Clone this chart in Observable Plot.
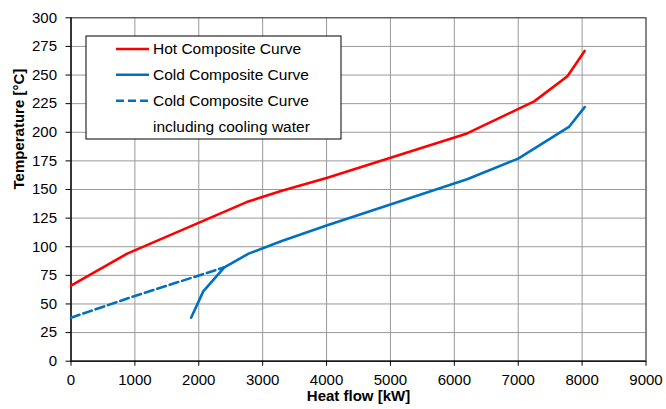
<!DOCTYPE html>
<html>
<head>
<meta charset="utf-8">
<script src="https://cdn.jsdelivr.net/npm/d3@7"></script>
<script src="https://cdn.jsdelivr.net/npm/@observablehq/plot@0.6"></script>
<style>
  html, body { margin: 0; padding: 0; background: #fff; }
  svg { display: block; }
</style>
</head>
<body>
<div id="chart"></div>
<script>
// Hot composite curve
const hotX = [0, 880, 2750, 3300, 4000, 6200, 7250, 7770, 8040];
const hotT = [66, 94, 139, 149, 160, 199, 227, 249, 271];
// Cold composite curve
const coldX = [1880, 2070, 2400, 2780, 3300, 4000, 6200, 7000, 7800, 8040];
const coldT = [38, 61, 82, 94, 105, 118.5, 159, 177, 205, 222];
// Cold composite curve including cooling water (dashed part)
const cwX = [0, 1000, 2400];
const cwT = [38, 57, 82];

const xTicks = [0, 1000, 2000, 3000, 4000, 5000, 6000, 7000, 8000, 9000];
const yTicks = [0, 25, 50, 75, 100, 125, 150, 175, 200, 225, 250, 275, 300];

const legendItems = [
  {label: "Hot Composite Curve", color: "#ff0000", dash: null},
  {label: "Cold Composite Curve", color: "#0070c0", dash: null},
  {label: "Cold Composite Curve", color: "#0070c0", dash: "8,4"},
  {label: "including cooling water", color: null, dash: null}
];

const toRows = (xs, ys) => xs.map((x, i) => ({x, y: ys[i]}));
const hot = toRows(hotX, hotT);
const cold = toRows(coldX, coldT);
const cw = toRows(cwX, cwT);

const FONT = "'Liberation Sans', Arial, sans-serif";

const plot = Plot.plot({
  width: 666,
  height: 409,
  marginLeft: 70.5,
  marginRight: 20.5,
  marginTop: 17.3,
  marginBottom: 48.3,
  style: {fontFamily: FONT, fontSize: "15px", color: "#000", background: "#fff"},
  x: {domain: [0, 9000], label: null},
  y: {domain: [0, 300], label: null},
  marks: [
    Plot.gridX(xTicks, {stroke: "#9a9a9a", strokeOpacity: 1, strokeWidth: 1}),
    Plot.gridY(yTicks, {stroke: "#9a9a9a", strokeOpacity: 1, strokeWidth: 1}),
    Plot.frame({stroke: "#404040", strokeWidth: 1}),
    Plot.ruleX([0], {stroke: "#000", strokeWidth: 1.2}),
    Plot.ruleY([0], {stroke: "#000", strokeWidth: 1.2}),
    Plot.axisX(xTicks, {tickSize: 5, tickPadding: 8, fontSize: 15, label: null, stroke: "#000", tickFormat: d => String(d)}),
    Plot.axisY(yTicks, {tickSize: 5, tickPadding: 9, fontSize: 15, label: null, stroke: "#000", tickFormat: d => String(d)}),
    Plot.line(cw, {x: "x", y: "y", stroke: "#0070c0", strokeWidth: 2.6, strokeDasharray: "9,4"}),
    Plot.line(hot, {x: "x", y: "y", stroke: "#ff0000", strokeWidth: 2.6}),
    Plot.line(cold, {x: "x", y: "y", stroke: "#0070c0", strokeWidth: 2.6}),
    Plot.text(["Heat flow [kW]"], {frameAnchor: "bottom", dy: 40, text: d => d, fontWeight: "bold", fontSize: 15, fill: "#000"}),
    Plot.text(["Temperature [°C]"], {frameAnchor: "left", dx: -52, rotate: -90, text: d => d, fontWeight: "bold", fontSize: 15, fill: "#000"})
  ]
});

document.getElementById("chart").appendChild(plot);

// Legend box inside the plot area
const svg = d3.select(plot);
const lg = svg.append("g").attr("font-family", FONT).attr("font-size", 15.5).attr("text-anchor", "start");
lg.append("rect").attr("x", 86).attr("y", 36).attr("width", 255).attr("height", 103)
  .attr("fill", "#fff").attr("stroke", "#000").attr("stroke-width", 1);
const rowY = [49, 74.7, 100.7, 126.3];
legendItems.forEach((d, i) => {
  if (d.color) {
    lg.append("line").attr("x1", 116).attr("x2", 149).attr("y1", rowY[i]).attr("y2", rowY[i])
      .attr("stroke", d.color).attr("stroke-width", 2.6)
      .attr("stroke-dasharray", d.dash);
  }
  lg.append("text").attr("x", 153).attr("y", rowY[i]).attr("dy", "0.35em")
    .attr("text-anchor", "start").attr("fill", "#000").text(d.label);
});
</script>
</body>
</html>
